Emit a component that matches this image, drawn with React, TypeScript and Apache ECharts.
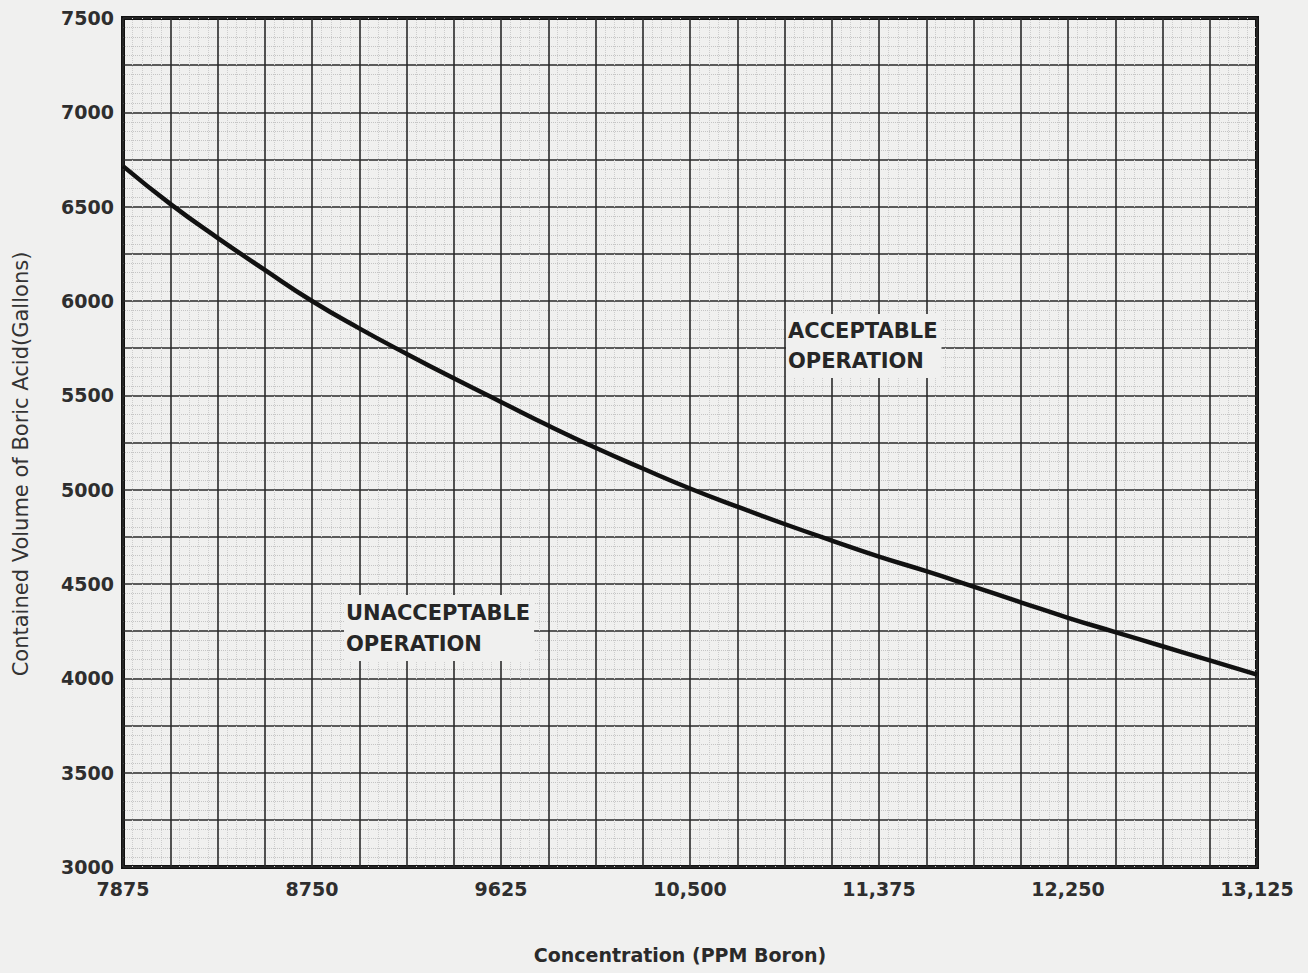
import React, { useEffect, useRef } from "react";
import * as echarts from "echarts";

// Concentration (PPM Boron) sample points along the curve
const concentration = [
  7875, 8093.75, 8312.5, 8531.25, 8750, 8968.75, 9187.5, 9406.25, 9625,
  9843.75, 10062.5, 10281.25, 10500, 10718.75, 10937.5, 11156.25, 11375,
  11593.75, 11812.5, 12031.25, 12250, 12468.75, 12687.5, 12906.25, 13125,
];
// Contained volume of boric acid (gallons)
const volume = [
  6715, 6515, 6335, 6165, 6000, 5855, 5720, 5590, 5465,
  5340, 5222, 5112, 5006, 4910, 4818, 4730, 4645,
  4568, 4486, 4403, 4321, 4245, 4170, 4095, 4020,
];

const xTicks = [7875, 8750, 9625, 10500, 11375, 12250, 13125];
const xTickLabels = ["7875", "8750", "9625", "10,500", "11,375", "12,250", "13,125"];
const yTicks = [3000, 3500, 4000, 4500, 5000, 5500, 6000, 6500, 7000, 7500];
const yTickLabels = ["3000", "3500", "4000", "4500", "5000", "5500", "6000", "6500", "7000", "7500"];

const xTitle = "Concentration (PPM Boron)";
const yTitle = "Contained Volume of Boric Acid(Gallons)";
const acceptableText = "ACCEPTABLE\nOPERATION";
const unacceptableText = "UNACCEPTABLE\nOPERATION";

const BG = "#f0f0ef";
const FONT = "DejaVu Sans";

function labelFor(ticks: number[], labels: string[], v: number): string {
  const i = ticks.findIndex((t) => Math.abs(t - v) < 1e-6);
  return i >= 0 ? labels[i] : "";
}

export default function App() {
  const ref = useRef<HTMLDivElement>(null);

  useEffect(() => {
    if (!ref.current) return;
    document.body.style.margin = "0";
    document.body.style.background = BG;
    const chart = echarts.init(ref.current, undefined, { renderer: "svg" });
    const data = concentration.map((c, i) => [c, volume[i]]);
    chart.setOption({
      animation: false,
      backgroundColor: BG,
      grid: {
        left: 123,
        right: 51,
        top: 18,
        bottom: 106,
        show: true,
        borderColor: "#111",
        borderWidth: 4,
        backgroundColor: "transparent",
      },
      xAxis: {
        type: "value",
        min: 7875,
        max: 13125,
        interval: 218.75,
        axisLine: { show: false },
        axisTick: { show: false },
        axisLabel: {
          margin: 12,
          fontFamily: FONT,
          fontWeight: "bold",
          fontSize: 19,
          color: "#2e2e2e",
          formatter: (v: number) => labelFor(xTicks, xTickLabels, v),
        },
        splitLine: { show: true, lineStyle: { color: "#2a2a2a", width: 1.6 } },
        minorTick: { show: false, splitNumber: 5 },
        minorSplitLine: { show: true, lineStyle: { color: "#cdcdcd", width: 1, type: "dotted" } },
      },
      yAxis: {
        type: "value",
        min: 3000,
        max: 7500,
        interval: 250,
        axisLine: { show: false },
        axisTick: { show: false },
        axisLabel: {
          margin: 9,
          fontFamily: FONT,
          fontWeight: "bold",
          fontSize: 19,
          color: "#2e2e2e",
          formatter: (v: number) => labelFor(yTicks, yTickLabels, v),
        },
        splitLine: { show: true, lineStyle: { color: "#2a2a2a", width: 1.6 } },
        minorTick: { show: false, splitNumber: 5 },
        minorSplitLine: { show: true, lineStyle: { color: "#c4c4c4", width: 1, type: "dotted" } },
      },
      series: [
        {
          type: "line",
          data,
          smooth: true,
          showSymbol: false,
          lineStyle: { color: "#111", width: 4.5 },
          z: 5,
        },
      ],
      graphic: [
        {
          type: "text",
          x: 786,
          y: 314,
          z: 10,
          style: {
            text: acceptableText,
            font: `bold 21px "${FONT}"`,
            lineHeight: 30,
            fill: "#262626",
            backgroundColor: BG,
            padding: [2, 4, 2, 2],
          },
        },
        {
          type: "text",
          x: 344,
          y: 595,
          z: 10,
          style: {
            text: unacceptableText,
            font: `bold 21px "${FONT}"`,
            lineHeight: 31,
            fill: "#262626",
            backgroundColor: BG,
            padding: [2, 4, 2, 2],
          },
        },
        {
          type: "text",
          x: 680,
          y: 955,
          style: {
            text: xTitle,
            font: `bold 19px "${FONT}"`,
            fill: "#2a2a2a",
            align: "center",
            verticalAlign: "middle",
          },
        },
        {
          type: "text",
          x: 21,
          y: 464,
          rotation: Math.PI / 2,
          style: {
            text: yTitle,
            font: `21px "${FONT}"`,
            fill: "#333",
            align: "center",
            verticalAlign: "middle",
          },
        },
      ],
    });
    return () => chart.dispose();
  }, []);

  return (
    <div
      ref={ref}
      style={{ position: "absolute", left: 0, top: 0, width: 1308, height: 973, background: BG }}
    />
  );
}
